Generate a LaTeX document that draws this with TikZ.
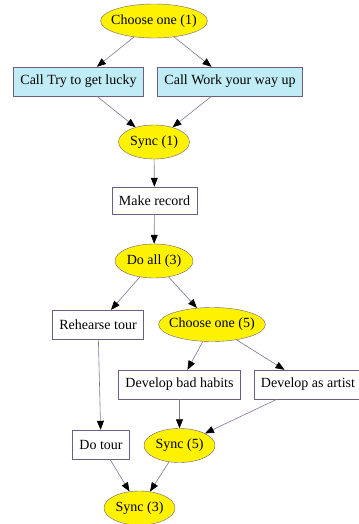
\documentclass[tikz,border=0pt]{standalone}
\usepackage{xcolor}
\usepackage{fontspec}
\setmainfont{Liberation Serif}
\usetikzlibrary{arrows.meta,shapes.geometric}
\definecolor{edgegray}{RGB}{135,115,150}
\definecolor{linegray}{RGB}{110,95,130}
\definecolor{callblue}{RGB}{192,236,246}

\begin{document}
\begin{tikzpicture}[x=1bp,y=-1bp,
    font=\fontsize{14bp}{16bp}\selectfont,
    oval/.style={draw=linegray,fill=yellow,ellipse,inner xsep=-5bp,inner ysep=0bp,minimum width=71bp,minimum height=34bp},
    task/.style={draw=linegray,rectangle,inner xsep=7bp,inner ysep=0bp,minimum height=29bp},
    call/.style={task,fill=callblue},
    flow/.style={draw=edgegray,line width=0.6bp,-{Triangle[length=9bp,width=7bp,color=black]}}]
    \useasboundingbox (0,0) rectangle (358,524);
    \node[oval] (choose1) at (154,21) {Choose one (1)};
    \node[call] (lucky) at (78.5,81.5) {Call Try to get lucky};
    \node[call] (work) at (230,81.5) {Call Work your way up};
    \node[oval] (sync1) at (154,142) {Sync (1)};
    \node[task,minimum height=27bp] (record) at (154.5,200.5) {Make record};
    \node[oval,minimum width=78bp] (doall) at (154,261) {Do all (3)};
    \node[task] (rehearse) at (98,324.5) {Rehearse tour};
    \node[oval] (choose5) at (212,324.5) {Choose one (5)};
    \node[task] (habits) at (179.5,384.5) {Develop bad habits};
    \node[task] (artist) at (308,384.5) {Develop as artist};
    \node[task] (tour) at (101,444.5) {Do tour};
    \node[oval] (sync5) at (179.5,445.5) {Sync (5)};
    \node[oval] (sync3) at (139.5,508) {Sync (3)};
    \draw[flow] (choose1) -- (lucky);
    \draw[flow] (choose1) -- (work);
    \draw[flow] (lucky) -- (sync1);
    \draw[flow] (work) -- (sync1);
    \draw[flow] (sync1) -- (record);
    \draw[flow] (record) -- (doall);
    \draw[flow] (doall) -- (rehearse);
    \draw[flow] (doall) -- (choose5);
    \draw[flow] (choose5) -- (habits);
    \draw[flow] (choose5) -- (artist);
    \draw[flow] (rehearse) -- (tour);
    \draw[flow] (habits) -- (sync5);
    \draw[flow] (artist) -- (sync5);
    \draw[flow] (tour) -- (sync3);
    \draw[flow] (sync5) -- (sync3);
\end{tikzpicture}
\end{document}
